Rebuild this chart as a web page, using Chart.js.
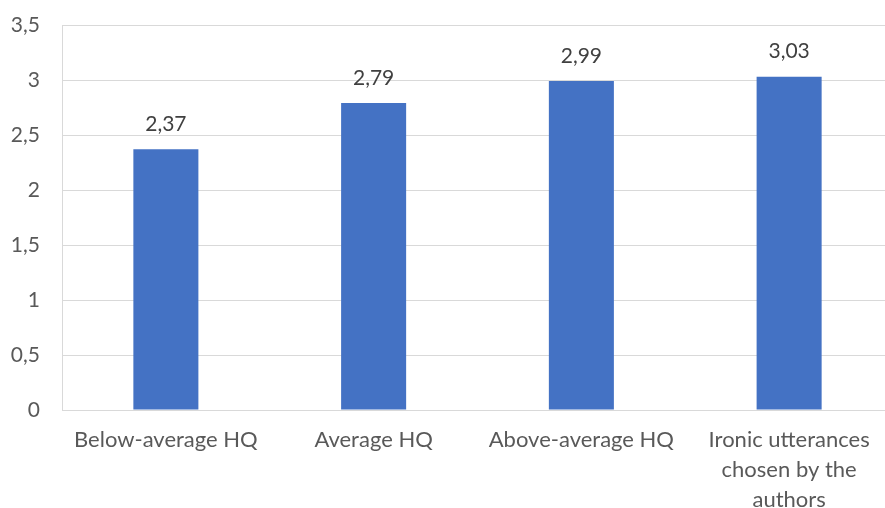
<!DOCTYPE html>
<html>
<head>
<meta charset="utf-8">
<script src="https://cdn.jsdelivr.net/npm/chart.js@4/dist/chart.umd.min.js"></script>
<style>
  html, body { margin: 0; padding: 0; background: #fff; overflow: hidden; }
  #wrap { width: 895px; height: 508px; position: relative; }
</style>
</head>
<body>
<div id="wrap"><canvas id="chart"></canvas></div>
<script>
// Datos
const categories = [
  'Below-average HQ',
  'Average HQ',
  'Above-average HQ',
  ['Ironic utterances', 'chosen by the', 'authors']
];
const meanValues = [2.37, 2.79, 2.99, 3.03];
const yTicks = [0, 0.5, 1, 1.5, 2, 2.5, 3, 3.5];

const FONT = 'Lato, "Open Sans", sans-serif';

// formato con coma decimal
function comma(v) {
  return String(v).replace('.', ',');
}

// etiquetas encima de las barras
const barLabels = {
  id: 'barLabels',
  afterDatasetsDraw(chart) {
    const ctx = chart.ctx;
    const meta = chart.getDatasetMeta(0);
    ctx.save();
    ctx.font = '21px ' + FONT;
    ctx.fillStyle = '#404040';
    ctx.textAlign = 'center';
    ctx.textBaseline = 'middle';
    meta.data.forEach((bar, i) => {
      ctx.fillText(comma(meanValues[i]), bar.x, bar.y - 25);
    });
    ctx.restore();
  }
};

const ctx = document.getElementById('chart').getContext('2d');
new Chart(ctx, {
  type: 'bar',
  data: {
    labels: categories,
    datasets: [{
      data: meanValues,
      backgroundColor: '#4472C4',
      borderWidth: 0,
      barPercentage: 0.313,
      categoryPercentage: 1
    }]
  },
  options: {
    responsive: true,
    maintainAspectRatio: false,
    animation: false,
    layout: { padding: { top: 25, right: 2, left: 0, bottom: 0 } },
    plugins: {
      legend: { display: false },
      tooltip: { enabled: false }
    },
    scales: {
      x: {
        grid: { display: false, drawTicks: false },
        border: { display: true, color: '#d9d9d9', width: 1 },
        ticks: {
          color: '#595959',
          font: { family: FONT, size: 22, lineHeight: 1.36 },
          padding: 15,
          maxRotation: 0,
          autoSkip: false
        },
        afterFit(scale) {
          scale.height = 98;
          scale.paddingLeft = 0;
          scale.paddingRight = 0;
        }
      },
      y: {
        min: 0,
        max: 3.5,
        afterBuildTicks(scale) {
          scale.ticks = yTicks.map(v => ({ value: v }));
        },
        grid: { color: '#d9d9d9', lineWidth: 1, drawTicks: false },
        border: { display: true, color: '#d9d9d9', width: 1 },
        ticks: {
          color: '#595959',
          font: { family: FONT, size: 21 },
          padding: 22,
          callback: (v) => comma(v)
        },
        afterFit(scale) {
          scale.width = 62;
          scale.paddingTop = 0;
          scale.paddingBottom = 0;
        }
      }
    }
  },
  plugins: [barLabels]
});
</script>
</body>
</html>
